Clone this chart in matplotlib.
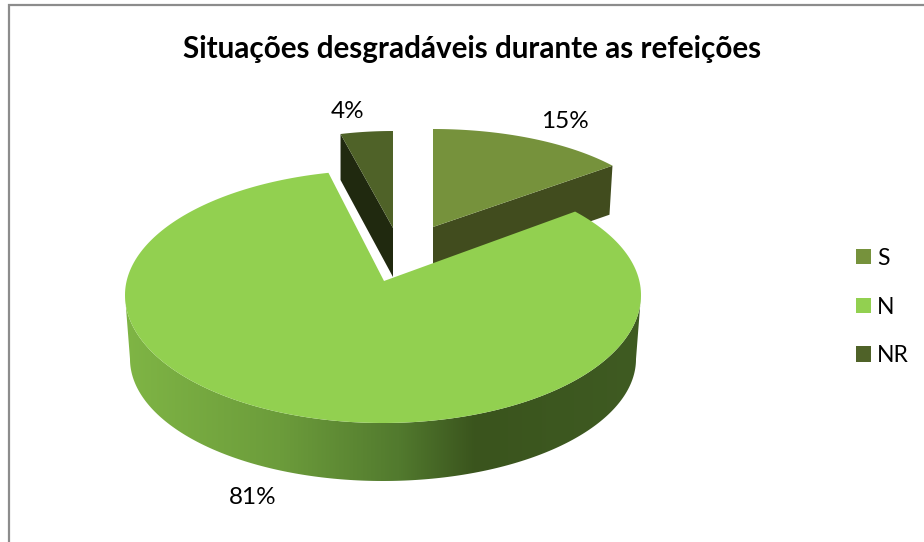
import numpy as np
import matplotlib
matplotlib.use("Agg")
import matplotlib.pyplot as plt
from matplotlib.patches import Polygon, Patch
from matplotlib.colors import LinearSegmentedColormap

title = "Situações desgradáveis durante as refeições"
categories = ["S", "N", "NR"]
shares = [15, 81, 4]
colors = {"S": "#76923C", "N": "#92D050", "NR": "#4F6228"}
wall_colors = {"S": "#414C1E", "NR": "#20290F"}

plt.rcParams["font.family"] = ["Lato", "DejaVu Sans"]
W, H = 924, 542
fig = plt.figure(figsize=(W / 100, H / 100), dpi=100)
ax = fig.add_axes([0, 0, 1, 1])
ax.set_xlim(0, W)
ax.set_ylim(H, 0)
ax.axis("off")

# Layout of the projected pie (pixels)
FIRST = 90.0
geom = {
    "S": dict(apex=(433, 227), off=(0, 0), rx=230, ry=98, ry_top=98, k=0.47, depth=49),
    "N": dict(apex=(384, 281), off=(-1, 14), rx=258, ry=128, ry_top=125, k=0.5, depth=58),
    "NR": dict(apex=(393, 228), off=(0, 0), rx=212, ry=97, ry_top=97, k=0.46, depth=49),
}
label_pos = {"S": (565, 122), "N": (253, 498), "NR": (348, 112)}


def rim(g, theta):
    """Ray from the apex at angle theta (deg) meets the slice's ellipse."""
    t = np.radians(theta)
    dx, dy = np.cos(t), -g["k"] * np.sin(t)
    ox, oy = -g["off"][0], -g["off"][1]

    def solve(ry):
        a = (dx / g["rx"]) ** 2 + (dy / ry) ** 2
        b = 2 * (ox * dx / g["rx"] ** 2 + oy * dy / ry ** 2)
        c = (ox / g["rx"]) ** 2 + (oy / ry) ** 2 - 1
        return (-b + np.sqrt(b * b - 4 * a * c)) / (2 * a)

    s = solve(g["ry_top"])
    if oy + s * dy > 0:
        s = solve(g["ry"])
    return g["apex"][0] + s * dx, g["apex"][1] + s * dy


def top_face(g, start, end):
    pts = [rim(g, th) for th in np.linspace(start, end, 240)]
    return np.array([g["apex"]] + pts)


# sweep angles derived from the values
spans = {}
angle = FIRST
for cat, v in zip(categories, shares):
    sweep = 360.0 * v / sum(shares)
    spans[cat] = (angle, angle - sweep)
    angle -= sweep

# --- back slices ---
g = geom["S"]
a0, a1 = spans["S"]
tip = rim(g, a1)
d = g["depth"]
ax.add_patch(Polygon([g["apex"], tip, (tip[0] - 3, tip[1] + d),
                      (g["apex"][0], g["apex"][1] + d)], fc=wall_colors["S"], ec="none", zorder=2))
ax.add_patch(Polygon(top_face(g, a0, a1), fc=colors["S"], ec="none", zorder=3))

g = geom["NR"]
a0, a1 = spans["NR"]
tip = rim(g, a0)
d = g["depth"]
ax.add_patch(Polygon([g["apex"], tip, (tip[0], tip[1] + d - 3),
                      (g["apex"][0], g["apex"][1] + d)], fc=wall_colors["NR"], ec="none", zorder=2))
ax.add_patch(Polygon(top_face(g, a0, a1), fc=colors["NR"], ec="none", zorder=3))

# --- big slice: gradient wall then top face ---
g = geom["N"]
cx, cy = g["apex"][0] + g["off"][0], g["apex"][1] + g["off"][1]
t = np.radians(np.linspace(180, 360, 200))
upper = np.c_[cx + g["rx"] * np.cos(t), cy - g["ry"] * np.sin(t)]
lrx, lry = g["rx"] - 5, g["ry"] - 6
lcy = cy + g["depth"] + 6
lower = np.c_[cx + lrx * np.cos(t), lcy - lry * np.sin(t)]
wall = Polygon(np.r_[upper, lower[::-1]], fc="none", ec="none", zorder=4)
ax.add_patch(wall)
stops = [(0.0, "#7FB545"), (0.30, "#6C9C3B"), (0.53, "#527A2E"), (0.68, "#3A541D"), (1.0, "#3F5B22")]
cmap = LinearSegmentedColormap.from_list("wall", stops)
im = ax.imshow(np.linspace(0, 1, 512)[None, :], cmap=cmap, aspect="auto",
               extent=(cx - g["rx"], cx + g["rx"], lcy + lry, cy), zorder=4)
im.set_clip_path(wall)
ax.set_xlim(0, W)
ax.set_ylim(H, 0)
a0, a1 = spans["N"]
ax.add_patch(Polygon(top_face(g, a0, a1), fc=colors["N"], ec="none", zorder=5))

# --- labels ---
for cat, v in zip(categories, shares):
    x, y = label_pos[cat]
    ax.text(x, y, f"{v}%", ha="center", va="center", fontsize=17.5, color="black", zorder=6)

ax.text(472, 49, title, ha="center", va="center", fontsize=21.3, fontweight="bold", color="black")

# --- frame ---
ax.plot([9, 9, W], [H, 5, 5], color="#8C8C8C", lw=1.6, solid_joinstyle="miter", zorder=1)

# --- legend ---
handles = [Patch(fc=colors[c], ec="none") for c in categories]
ax.legend(handles, categories, loc="center left", bbox_to_anchor=(856 / W, 1 - 307 / H),
          frameon=False, fontsize=16.5, handlelength=0.655, handleheight=0.655,
          handletextpad=0.27, labelspacing=1.21, borderpad=0, borderaxespad=0)

fig.savefig("out.png", dpi=100)
